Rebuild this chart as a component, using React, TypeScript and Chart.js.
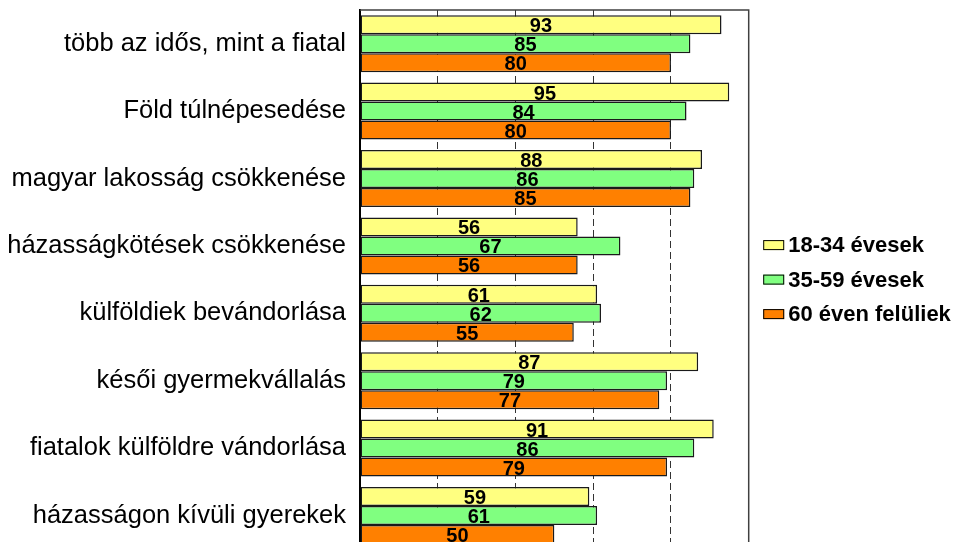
import React, { useEffect, useRef } from "react";
import { Chart, registerables } from "chart.js";

Chart.register(...registerables);

const categories = [
  "több az idős, mint a fiatal",
  "Föld túlnépesedése",
  "magyar lakosság csökkenése",
  "házasságkötések csökkenése",
  "külföldiek bevándorlása",
  "késői gyermekvállalás",
  "fiatalok külföldre vándorlása",
  "házasságon kívüli gyerekek",
];
const seriesNames = ["18-34 évesek", "35-59 évesek", "60 éven felüliek"];
const young = [93, 95, 88, 56, 61, 87, 91, 59];
const middle = [85, 84, 86, 67, 62, 79, 86, 61];
const old = [80, 80, 85, 56, 55, 77, 79, 50];
const colors = ["#FFFF80", "#80FF80", "#FF8000"];
const xTicks = [0, 20, 40, 60, 80, 100];

const FONT = "Arial, 'Liberation Sans', sans-serif";

const valueLabels = {
  id: "valueLabels",
  afterDatasetsDraw(chart: any) {
    const ctx = chart.ctx;
    ctx.save();
    ctx.font = `bold 20px ${FONT}`;
    ctx.fillStyle = "#000";
    ctx.textAlign = "center";
    ctx.textBaseline = "middle";
    chart.data.datasets.forEach((ds: any, di: number) => {
      const meta = chart.getDatasetMeta(di);
      meta.data.forEach((el: any, i: number) => {
        const cx = (el.base + el.x) / 2;
        ctx.fillText(String(ds.data[i]), cx, el.y + 2);
      });
    });
    ctx.restore();
  },
};

const frame = {
  id: "frame",
  afterDatasetsDraw(chart: any) {
    const { ctx, chartArea } = chart;
    ctx.save();
    ctx.strokeStyle = "#404040";
    ctx.lineWidth = 1.5;
    ctx.beginPath();
    ctx.moveTo(chartArea.left, chartArea.top);
    ctx.lineTo(chartArea.right, chartArea.top);
    ctx.lineTo(chartArea.right, chartArea.bottom);
    ctx.stroke();
    ctx.restore();
  },
};

const customLegend = {
  id: "customLegend",
  afterDraw(chart: any) {
    const { ctx, chartArea } = chart;
    const cy = (chartArea.top + chartArea.bottom) / 2;
    const boxX = chartArea.right + 14.5;
    ctx.save();
    ctx.font = `bold 22px ${FONT}`;
    ctx.textBaseline = "middle";
    ctx.textAlign = "left";
    chart.data.datasets.forEach((ds: any, i: number) => {
      const y = cy + (i - 1) * 34.5;
      ctx.fillStyle = ds.backgroundColor;
      ctx.fillRect(boxX, y - 5, 21, 10);
      ctx.strokeStyle = "#000";
      ctx.lineWidth = 1;
      ctx.strokeRect(boxX + 0.5, y - 5 + 0.5, 20, 9);
      ctx.fillStyle = "#000";
      ctx.fillText(ds.label, boxX + 25, y + 1);
    });
    ctx.restore();
  },
};

export default function App() {
  const ref = useRef<HTMLCanvasElement>(null);
  useEffect(() => {
    if (!ref.current) return;
    const chart = new Chart(ref.current, {
      type: "bar",
      data: {
        labels: categories,
        datasets: [young, middle, old].map((d, i) => ({
          label: seriesNames[i],
          data: d,
          backgroundColor: colors[i],
          borderColor: "#1a1a1a",
          borderWidth: 1.5,
          borderSkipped: false,
          categoryPercentage: 0.846,
          barPercentage: 1.0,
        })),
      },
      options: {
        indexAxis: "y",
        animation: false,
        responsive: false,
        maintainAspectRatio: false,
        devicePixelRatio: 1,
        layout: { padding: { left: 0, right: 210.3, top: 10, bottom: 10.8 } },
        plugins: { legend: { display: false }, tooltip: { enabled: false } },
        scales: {
          x: {
            type: "linear",
            min: 0,
            max: 100,
            afterBuildTicks: (scale: any) => {
              scale.ticks = xTicks.map((v) => ({ value: v }));
            },
            afterFit: (scale: any) => {
              scale.height = 0;
              scale.paddingLeft = 0;
              scale.paddingRight = 0;
            },
            ticks: { display: false },
            grid: {
              drawTicks: false,
              color: (c: any) =>
                c.tick && (c.tick.value === 0 || c.tick.value === 100)
                  ? "rgba(0,0,0,0)"
                  : "#333",
              lineWidth: 1,
            },
            border: { display: false, dash: [7, 4] },
          },
          y: {
            type: "category",
            offset: true,
            afterFit: (scale: any) => {
              scale.width = 360;
              scale.paddingTop = 0;
              scale.paddingBottom = 0;
            },
            grid: { display: false, drawTicks: false },
            border: { display: true, color: "#000", width: 2 },
            ticks: {
              padding: 14,
              color: "#000",
              font: { family: FONT, size: 25.5 },
            },
          },
        },
      },
      plugins: [frame, valueLabels, customLegend],
    } as any);
    return () => chart.destroy();
  }, []);
  return (
    <div
      style={{
        position: "fixed",
        left: 0,
        top: 0,
        width: 959,
        height: 542,
        overflow: "hidden",
        background: "#fff",
      }}
    >
      <canvas
        ref={ref}
        width={959}
        height={560}
        style={{ display: "block", width: 959, height: 560 }}
      />
    </div>
  );
}
